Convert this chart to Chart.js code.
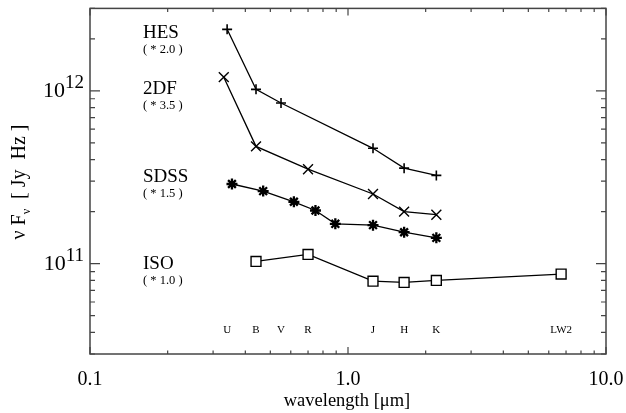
<!DOCTYPE html>
<html>
<head>
<meta charset="utf-8">
<script src="https://cdn.jsdelivr.net/npm/chart.js@4"></script>
<style>
  body { margin: 0; background: #fff; }
  canvas { display: block; }
</style>
</head>
<body>
<canvas id="sed" width="626" height="413"></canvas>
<script>
// survey names and scale factors written next to each curve
const surveys = ['HES', '2DF', 'SDSS', 'ISO'];
const scaleNotes = ['( * 2.0 )', '( * 3.5 )', '( * 1.5 )', '( * 1.0 )'];

// band labels along the bottom
const bandNames = ['U', 'B', 'V', 'R', 'J', 'H', 'K', 'LW2'];
const bandWave = [0.34, 0.44, 0.55, 0.70, 1.25, 1.65, 2.2, 6.7];

// wavelength [um] / nuFnu [Jy Hz]
const hesWave = [0.34, 0.44, 0.55, 1.25, 1.65, 2.2];
const hesFlux = [2.27e12, 1.02e12, 8.5e11, 4.65e11, 3.57e11, 3.24e11];

const dfWave = [0.33, 0.44, 0.70, 1.25, 1.65, 2.2];
const dfFlux = [1.2e12, 4.77e11, 3.52e11, 2.53e11, 2.0e11, 1.92e11];

const sdssWave = [0.355, 0.469, 0.617, 0.748, 0.893, 1.25, 1.65, 2.2];
const sdssFlux = [2.89e11, 2.63e11, 2.28e11, 2.03e11, 1.70e11, 1.67e11, 1.52e11, 1.41e11];

const isoWave = [0.44, 0.70, 1.25, 1.65, 2.2, 6.7];
const isoFlux = [1.03e11, 1.13e11, 7.92e10, 7.79e10, 8.0e10, 8.7e10];

// axis ticks
const xMajor = [0.1, 1, 10];
const xMajorLabels = ['0.1', '1.0', '10.0'];
const yMajor = [1e11, 1e12];
const yMajorExp = ['11', '12'];

const serif = '"Liberation Serif", "DejaVu Serif", serif';
const axisColor = '#444';

const pts = (xs, ys) => xs.map((x, i) => ({x: x, y: ys[i]}));

// minor ticks for a log axis between min and max
const minorTicks = (min, max) => {
    const out = [];
    for (let e = Math.floor(Math.log10(min)); e <= Math.ceil(Math.log10(max)); e++) {
        for (let m = 2; m <= 9; m++) {
            const v = m * Math.pow(10, e);
            if (v >= min && v <= max) out.push(v);
        }
    }
    return out;
};

//draws the frame, inward ticks, labels and notes
const framePlugin = {
    id: 'frame',
    afterDatasetsDraw(chart) {
        const ctx = chart.ctx;
        const a = chart.chartArea;
        const xs = chart.scales.x;
        const ys = chart.scales.y;
        ctx.save();

        ctx.strokeStyle = axisColor;
        ctx.lineWidth = 1.5;
        ctx.strokeRect(a.left, a.top, a.right - a.left, a.bottom - a.top);

        ctx.lineWidth = 1.2;
        ctx.beginPath();
        const xTick = (v, len) => {
            const px = xs.getPixelForValue(v);
            ctx.moveTo(px, a.bottom); ctx.lineTo(px, a.bottom - len);
            ctx.moveTo(px, a.top); ctx.lineTo(px, a.top + len);
        };
        const yTick = (v, len) => {
            const py = ys.getPixelForValue(v);
            ctx.moveTo(a.left, py); ctx.lineTo(a.left + len, py);
            ctx.moveTo(a.right, py); ctx.lineTo(a.right - len, py);
        };
        xMajor.forEach(v => xTick(v, 7));
        minorTicks(xs.min, xs.max).forEach(v => xTick(v, 3.5));
        yMajor.forEach(v => yTick(v, 10));
        minorTicks(ys.min, ys.max).forEach(v => yTick(v, 5));
        ctx.stroke();

        ctx.fillStyle = '#000';
        ctx.textBaseline = 'alphabetic';

        // x tick labels
        ctx.font = '20px ' + serif;
        ctx.textAlign = 'center';
        xMajor.forEach((v, i) => {
            ctx.fillText(xMajorLabels[i], xs.getPixelForValue(v), 385);
        });

        // y tick labels as 10^n
        yMajor.forEach((v, i) => {
            const py = ys.getPixelForValue(v);
            ctx.font = '19px ' + serif;
            ctx.textAlign = 'right';
            const expW = ctx.measureText(yMajorExp[i]).width;
            ctx.fillText(yMajorExp[i], 84, py - 3);
            ctx.font = '22px ' + serif;
            ctx.fillText('10', 84 - expW, py + 6);
        });

        // x title
        ctx.font = '18.5px ' + serif;
        ctx.textAlign = 'center';
        ctx.fillText('wavelength [\u03bcm]', 347, 406);

        // y title, rotated
        ctx.save();
        ctx.translate(25, 182);
        ctx.rotate(-Math.PI / 2);
        ctx.textAlign = 'left';
        const parts = [['\u03bd F', 20, 0], ['\u03bd', 12, 5], ['  [ Jy  Hz ]', 20, 0]];
        let total = 0;
        parts.forEach(p => { ctx.font = p[1] + 'px ' + serif; total += ctx.measureText(p[0]).width; });
        let cx = -total / 2;
        parts.forEach(p => {
            ctx.font = p[1] + 'px ' + serif;
            ctx.fillText(p[0], cx, p[2]);
            cx += ctx.measureText(p[0]).width;
        });
        ctx.restore();

        // band names
        ctx.font = '11px ' + serif;
        ctx.textAlign = 'center';
        bandNames.forEach((b, i) => {
            ctx.fillText(b, xs.getPixelForValue(bandWave[i]), 333);
        });

        // survey names and scale factors
        const noteY = [38, 94, 182, 269];
        ctx.textAlign = 'left';
        surveys.forEach((s, i) => {
            ctx.font = '19px ' + serif;
            ctx.fillText(s, 143, noteY[i]);
            ctx.font = '12.5px ' + serif;
            ctx.fillText(scaleNotes[i], 143, noteY[i] + 15);
        });

        ctx.restore();
    }
};

const line = {borderColor: '#000', borderWidth: 1.3, showLine: true, pointBorderColor: '#000'};

new Chart(document.getElementById('sed'), {
    type: 'scatter',
    data: {
        datasets: [
            {...line, label: surveys[0], data: pts(hesWave, hesFlux),
             pointStyle: 'cross', pointRadius: 5, pointBorderWidth: 1.6},
            {...line, label: surveys[1], data: pts(dfWave, dfFlux),
             pointStyle: 'crossRot', pointRadius: 7, pointBorderWidth: 1.4},
            {...line, label: surveys[2], data: pts(sdssWave, sdssFlux),
             pointStyle: 'star', pointRadius: 5.5, pointBorderWidth: 2.3},
            {...line, label: surveys[3], data: pts(isoWave, isoFlux),
             pointStyle: 'rect', pointRadius: 7, pointBorderWidth: 1.4,
             pointBackgroundColor: '#fff'},
        ],
    },
    options: {
        responsive: false,
        animation: false,
        layout: {padding: {left: 90, right: 20, top: 6, bottom: 59}},
        plugins: {
            legend: {display: false},
            tooltip: {enabled: false},
        },
        elements: {point: {hoverRadius: 0}},
        scales: {
            x: {type: 'logarithmic', min: 0.1, max: 10, display: false},
            y: {type: 'logarithmic', min: 3e10, max: 3e12, display: false},
        },
        events: [],
    },
    plugins: [framePlugin],
});
</script>
</body>
</html>
